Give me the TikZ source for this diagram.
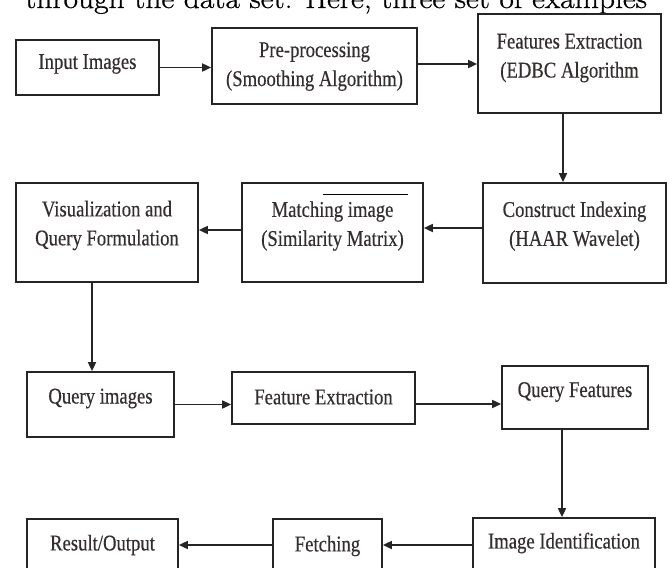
\documentclass[tikz,border=0pt]{standalone}
\usepackage{fontspec}
\newfontfamily\boxfont[FakeStretch=0.83, FakeBold=0.4]{Liberation Serif}
\newfontfamily\bodyfont[FakeStretch=1.09, FakeBold=0.8]{Latin Modern Roman}
\usetikzlibrary{arrows.meta}
\definecolor{inkline}{RGB}{38,36,36}
\definecolor{inktext}{RGB}{52,46,46}

\begin{document}
\begin{tikzpicture}[x=1pt, y=-1pt]
\tikzstyle{block}=[draw=inkline, line width=1.7pt, inner sep=0pt]
\tikzstyle{label}=[align=center, text=inktext, inner sep=0pt,
  font=\boxfont\fontsize{22.5}{29}\selectfont]
\tikzstyle{arr}=[draw=inkline, line width=1.7pt, -{Triangle[length=9pt,width=8pt]}]

\path[use as bounding box, clip] (0,0) rectangle (670,568);

% cut-off line of body text above the figure
\node[anchor=base west, inner sep=0pt, font=\bodyfont\fontsize{28.9}{30}\selectfont] (body) at (25,8)
  {through the data set. Here, three set of examples};

% first row
\node[block, minimum width=143, minimum height=55] (inp) at (87.5,67.5) {};
\node[block, minimum width=205, minimum height=76] (pre) at (314.5,66) {};
\node[block, minimum width=183, minimum height=99] (fext) at (569.5,63.5) {};
\node[label] (inpT) at (87.5,64) {Input Images};
\node[label] (preT) at (314.5,66.5) {Pre-processing\\(Smoothing Algorithm)};
\node[label] (fextT) at (569.5,58) {Features Extraction\\(EDBC Algorithm};

% second row
\node[block, minimum width=182, minimum height=99] (vis) at (107,232.5) {};
\node[block, minimum width=181, minimum height=99] (match) at (332.5,232.5) {};
\node[block, minimum width=183, minimum height=100] (constr) at (574.5,233) {};
\node[label] (visT) at (107,225.5) {Visualization and\\Query Formulation};
\node[label] (matchT) at (332.5,226) {Matching image\\(Similarity Matrix)};
\node[label] (constrT) at (574.5,226) {Construct Indexing\\(HAAR Wavelet)};
\draw[line width=0.8pt] (323,194) -- (408,194);

% third row
\node[block, minimum width=147, minimum height=65] (qimg) at (100.5,404.5) {};
\node[block, minimum width=183, minimum height=52] (fe) at (323.5,398) {};
\node[block, minimum width=146, minimum height=63] (qf) at (575,397.5) {};
\node[label] (qimgT) at (100.5,398.5) {Query images};
\node[label] (feT) at (323.5,397) {Feature Extraction};
\node[label] (qfT) at (575,392) {Query Features};

% last row
\node[block, minimum width=151, minimum height=60] (resout) at (102.5,549) {};
\node[block, minimum width=109, minimum height=60] (fetch) at (327.5,549) {};
\node[block, minimum width=182, minimum height=60] (imgid) at (564,548) {};
\node[label] (resoutT) at (102.5,545) {Result/Output};
\node[label] (fetchT) at (327.5,546) {Fetching};
\node[label] (imgidT) at (564,543) {Image Identification};

% arrows
\draw[arr] (inp.east) -- (inp.east -| pre.west);
\draw[arr] ([yshift=2pt]pre.east) -- ([yshift=2pt]pre.east -| fext.west);
\draw[arr] ([xshift=-6.5pt]fext.south) -- ([xshift=-6.5pt]fext.south |- constr.north);
\draw[arr] ([yshift=5pt]constr.west) -- ([yshift=5pt]constr.west -| match.east);
\draw[arr] ([yshift=2.5pt]match.west) -- ([yshift=2.5pt]match.west -| vis.east);
\draw[arr] ([xshift=-15pt]vis.south) -- ([xshift=-15pt]vis.south |- qimg.north);
\draw[arr] (qimg.east) -- (qimg.east -| fe.west);
\draw[arr] ([yshift=-6pt]fe.east) -- ([yshift=-6pt]fe.east -| qf.west);
\draw[arr] ([xshift=-13pt]qf.south) -- ([xshift=-13pt]qf.south |- imgid.north);
\draw[arr] ([yshift=3pt]imgid.west) -- ([yshift=3pt]imgid.west -| fetch.east);
\draw[arr] ([yshift=4pt]fetch.west) -- ([yshift=4pt]fetch.west -| resout.east);

\end{tikzpicture}
\end{document}
